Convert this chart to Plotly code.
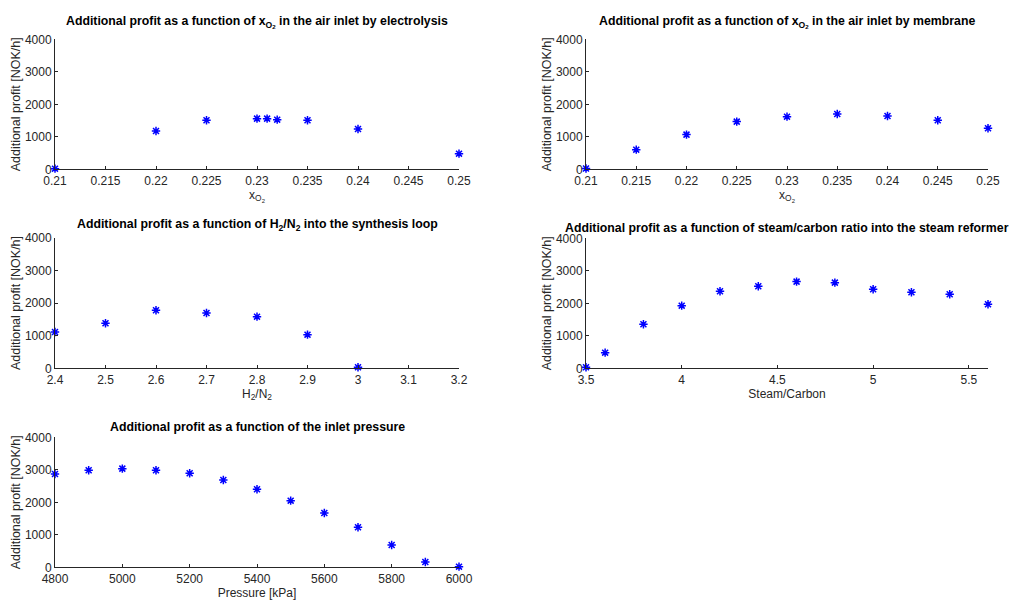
import plotly.graph_objects as go

# ---- data ----
xo2_elec = [0.21, 0.22, 0.225, 0.23, 0.231, 0.232, 0.235, 0.24, 0.25]
profit_elec = [20, 1179, 1507, 1559, 1559, 1528, 1507, 1241, 482]

xo2_memb = [0.21, 0.215, 0.22, 0.225, 0.23, 0.235, 0.24, 0.245, 0.25]
profit_memb = [25, 605, 1067, 1467, 1620, 1702, 1641, 1507, 1262]

h2n2 = [2.4, 2.5, 2.6, 2.7, 2.8, 2.9, 3.0]
profit_h2n2 = [1112, 1378, 1776, 1694, 1582, 1031, 30]

steam_carbon = [3.5, 3.6, 3.8, 4.0, 4.2, 4.4, 4.6, 4.8, 5.0, 5.2, 5.4, 5.6]
profit_sc = [31, 482, 1354, 1928, 2369, 2523, 2667, 2636, 2431, 2338, 2277, 1969]

pressure = [4800, 4900, 5000, 5100, 5200, 5300, 5400, 5500, 5600, 5700, 5800, 5900, 6000]
profit_p = [2872, 2985, 3036, 2985, 2892, 2687, 2400, 2051, 1672, 1231, 687, 164, 20]

titles = [
    "Additional profit as a function of x<sub>O<sub>2</sub></sub> in the air inlet by electrolysis",
    "Additional profit as a function of x<sub>O<sub>2</sub></sub> in the air inlet by membrane",
    "Additional profit as a function of H<sub>2</sub>/N<sub>2</sub> into the synthesis loop",
    "Additional profit as a function of steam/carbon ratio into the steam reformer",
    "Additional profit as a function of the inlet pressure",
]
xlabels = ["x<sub>O<sub>2</sub></sub>", "x<sub>O<sub>2</sub></sub>", "H<sub>2</sub>/N<sub>2</sub>",
           "Steam/Carbon", "Pressure [kPa]"]
ylabel = "Additional profit [NOK/h]"

W, H = 1014, 601
# pixel boxes: (left, right, top, bottom)
boxes = [(55, 459, 39.3, 169.3), (586, 988, 39.3, 169.3),
         (55, 459, 237.7, 368.3), (586, 988, 238.3, 368.3),
         (55, 459, 437.3, 567.3)]
# title gap above each axes box (px)
title_gap = [7, 7, 3, 1, 1]
xranges = [[0.21, 0.25], [0.21, 0.25], [2.4, 3.2], [3.5, 5.6], [4800, 6000]]
xticks = [
    [0.21, 0.215, 0.22, 0.225, 0.23, 0.235, 0.24, 0.245, 0.25],
    [0.21, 0.215, 0.22, 0.225, 0.23, 0.235, 0.24, 0.245, 0.25],
    [2.4, 2.5, 2.6, 2.7, 2.8, 2.9, 3.0, 3.1, 3.2],
    [3.5, 4.0, 4.5, 5.0, 5.5],
    [4800, 5000, 5200, 5400, 5600, 5800, 6000],
]
yticks = [0, 1000, 2000, 3000, 4000]

data = [(xo2_elec, profit_elec), (xo2_memb, profit_memb), (h2n2, profit_h2n2),
        (steam_carbon, profit_sc), (pressure, profit_p)]

FONT = "Liberation Sans, Arial, Helvetica, sans-serif"
AX = "#262626"

fig = go.Figure()
annotations = []
for i, ((xs, ys), (l, r, t, b)) in enumerate(zip(data, boxes)):
    n = "" if i == 0 else str(i + 1)
    fig.add_trace(go.Scatter(
        x=xs, y=ys, mode="markers", xaxis="x" + n, yaxis="y" + n,
        cliponaxis=False, showlegend=False,
        marker=dict(symbol="asterisk-open", size=7, color="#0000ff",
                    line=dict(color="#0000ff", width=1.5)),
    ))
    common = dict(showgrid=False, zeroline=False, showline=True, linecolor=AX,
                  linewidth=1, ticks="inside", ticklen=3, tickcolor=AX,
                  automargin=False,
                  tickfont=dict(family=FONT, size=12, color=AX))
    fig.layout["xaxis" + n] = dict(
        common, domain=[l / W, r / W], range=xranges[i], tickvals=xticks[i],
        anchor="y" + n, ticklabelstandoff=0,
        title=dict(text=xlabels[i], font=dict(family=FONT, size=12, color=AX), standoff=1),
    )
    fig.layout["yaxis" + n] = dict(
        common, domain=[1 - b / H, 1 - t / H], range=[0, 4000], tickvals=yticks,
        anchor="x" + n,
        title=dict(text=ylabel, font=dict(family=FONT, size=12.5, color=AX), standoff=1),
    )
    annotations.append(dict(
        text="<b>" + titles[i] + "</b>", x=(l + r) / 2 / W, y=1 - (t - title_gap[i]) / H,
        xref="paper", yref="paper", xanchor="center", yanchor="bottom",
        showarrow=False, font=dict(family=FONT, size=12.3, color="#000000"),
    ))

fig.update_layout(
    width=W, height=H, margin=dict(l=0, r=0, t=0, b=0),
    paper_bgcolor="white", plot_bgcolor="white",
    annotations=annotations,
)
fig.write_html("out.html", config={"displayModeBar": False},
               post_script="document.body.style.margin='0';document.body.style.overflow='hidden';")
